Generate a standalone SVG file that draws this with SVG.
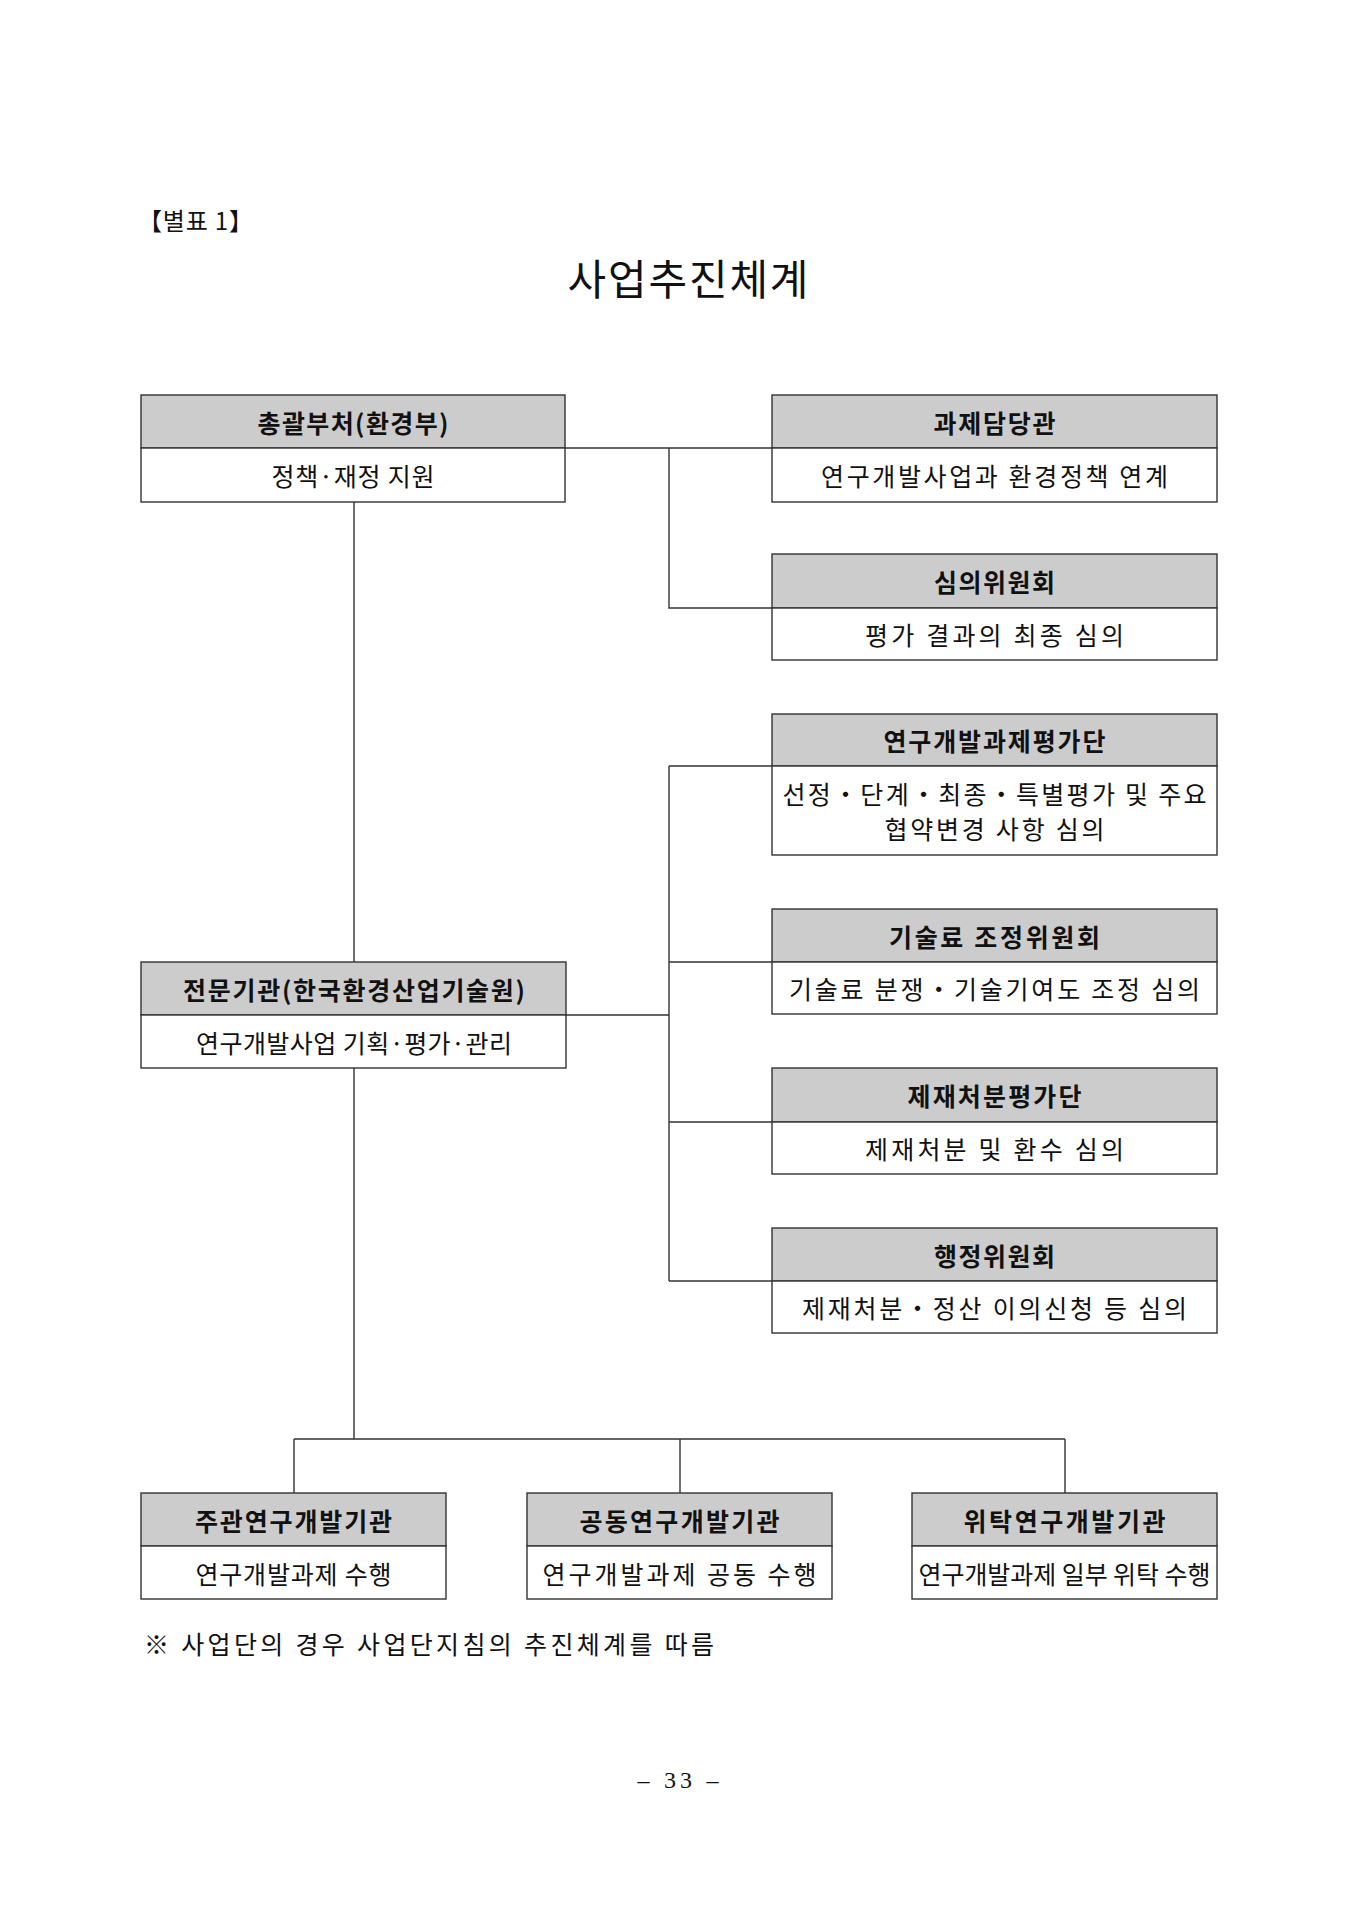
<svg xmlns="http://www.w3.org/2000/svg" width="1358" height="1920" viewBox="0 0 1358 1920">
<style>
.hd{fill:#cccccc;stroke:#333333;stroke-width:1.4}
.bd{fill:#ffffff;stroke:#333333;stroke-width:1.4}
.ln{fill:none;stroke:#333333;stroke-width:1.4}
.ht{font-family:"Noto Sans CJK KR","Noto Sans",sans-serif;font-weight:700;font-size:25px;fill:#111111;text-anchor:middle;dominant-baseline:central}
.bt{font-family:"Noto Sans CJK KR","Noto Sans",sans-serif;font-weight:400;font-size:25px;fill:#111111;text-anchor:middle;dominant-baseline:central}
</style>
<rect width="1358" height="1920" fill="#ffffff"/>
<text x="138" y="219" font-family="Noto Sans CJK KR, sans-serif" font-size="24" fill="#111" dominant-baseline="central" textLength="115" lengthAdjust="spacing">【별표 1】</text>
<text x="688" y="276" font-family="Noto Sans CJK KR, sans-serif" font-size="42" fill="#111" text-anchor="middle" dominant-baseline="central" textLength="241" lengthAdjust="spacing">사업추진체계</text>

<g id="connectors">
<path class="ln" d="M565 448 H772 M669 448 V608 H772"/>
<path class="ln" d="M354 502 V962 M354 1068 V1439"/>
<path class="ln" d="M566 1015 H669 M669 766 V1281 M669 766 H772 M669 962 H772 M669 1122 H772 M669 1281 H772"/>
<path class="ln" d="M294 1439 H1065 M294 1439 V1493 M680 1439 V1493 M1065 1439 V1493"/>
</g>

<g id="n-ministry">
<rect class="hd" x="141" y="395" width="424" height="53"/>
<rect class="bd" x="141" y="448" width="424" height="54"/>
<text class="ht" x="353" y="421.5" textLength="191" lengthAdjust="spacing">총괄부처(환경부)</text>
<text class="bt" x="353" y="475" textLength="163" lengthAdjust="spacing">정책·재정 지원</text>
</g>

<g id="n-officer">
<rect class="hd" x="772" y="395" width="445" height="53"/>
<rect class="bd" x="772" y="448" width="445" height="54"/>
<text class="ht" x="994.5" y="421.5" textLength="122" lengthAdjust="spacing">과제담당관</text>
<text class="bt" x="994.5" y="475" textLength="347" lengthAdjust="spacing">연구개발사업과 환경정책 연계</text>
</g>

<g id="n-review">
<rect class="hd" x="772" y="554" width="445" height="54"/>
<rect class="bd" x="772" y="608" width="445" height="52"/>
<text class="ht" x="994.5" y="581" textLength="121" lengthAdjust="spacing">심의위원회</text>
<text class="bt" x="994.5" y="634" textLength="259" lengthAdjust="spacing">평가 결과의 최종 심의</text>
</g>

<g id="n-eval">
<rect class="hd" x="772" y="714" width="445" height="52"/>
<rect class="bd" x="772" y="766" width="445" height="89"/>
<text class="ht" x="994.5" y="740" textLength="222" lengthAdjust="spacing">연구개발과제평가단</text>
<text class="bt" x="994.5" y="793" font-size="23" textLength="424" lengthAdjust="spacing">선정・단계・최종・특별평가 및 주요</text>
<text class="bt" x="994.5" y="828" font-size="23" textLength="220" lengthAdjust="spacing">협약변경 사항 심의</text>
</g>

<g id="n-fee">
<rect class="hd" x="772" y="909" width="445" height="53"/>
<rect class="bd" x="772" y="962" width="445" height="52"/>
<text class="ht" x="994.5" y="935.5" textLength="211" lengthAdjust="spacing">기술료 조정위원회</text>
<text class="bt" x="994.5" y="988" textLength="411" lengthAdjust="spacing">기술료 분쟁・기술기여도 조정 심의</text>
</g>

<g id="n-agency">
<rect class="hd" x="141" y="962" width="425" height="53"/>
<rect class="bd" x="141" y="1015" width="425" height="53"/>
<text class="ht" x="354" y="988.5" textLength="342" lengthAdjust="spacing">전문기관(한국환경산업기술원)</text>
<text class="bt" x="354" y="1041.5" textLength="316" lengthAdjust="spacing">연구개발사업 기획·평가·관리</text>
</g>

<g id="n-sanction">
<rect class="hd" x="772" y="1068" width="445" height="54"/>
<rect class="bd" x="772" y="1122" width="445" height="52"/>
<text class="ht" x="994.5" y="1095" textLength="174" lengthAdjust="spacing">제재처분평가단</text>
<text class="bt" x="994.5" y="1148" textLength="259" lengthAdjust="spacing">제재처분 및 환수 심의</text>
</g>

<g id="n-admin">
<rect class="hd" x="772" y="1228" width="445" height="53"/>
<rect class="bd" x="772" y="1281" width="445" height="52"/>
<text class="ht" x="994.5" y="1254.5" textLength="121" lengthAdjust="spacing">행정위원회</text>
<text class="bt" x="994.5" y="1307" textLength="385" lengthAdjust="spacing">제재처분・정산 이의신청 등 심의</text>
</g>

<g id="n-lead">
<rect class="hd" x="141" y="1493" width="305" height="53"/>
<rect class="bd" x="141" y="1546" width="305" height="53"/>
<text class="ht" x="293.5" y="1519.5" textLength="197" lengthAdjust="spacing">주관연구개발기관</text>
<text class="bt" x="293.5" y="1572.5" textLength="196" lengthAdjust="spacing">연구개발과제 수행</text>
</g>

<g id="n-joint">
<rect class="hd" x="527" y="1493" width="305" height="53"/>
<rect class="bd" x="527" y="1546" width="305" height="53"/>
<text class="ht" x="679.5" y="1519.5" textLength="200" lengthAdjust="spacing">공동연구개발기관</text>
<text class="bt" x="679.5" y="1572.5" textLength="274" lengthAdjust="spacing">연구개발과제 공동 수행</text>
</g>

<g id="n-consign">
<rect class="hd" x="912" y="1493" width="305" height="53"/>
<rect class="bd" x="912" y="1546" width="305" height="53"/>
<text class="ht" x="1064.5" y="1519.5" textLength="202" lengthAdjust="spacing">위탁연구개발기관</text>
<text class="bt" x="1064.5" y="1572.5" textLength="292" lengthAdjust="spacing">연구개발과제 일부 위탁 수행</text>
</g>

<text x="144" y="1643" font-family="Noto Sans CJK KR, sans-serif" font-size="25" fill="#111" dominant-baseline="central" textLength="570" lengthAdjust="spacing">※ 사업단의 경우 사업단지침의 추진체계를 따름</text>
<text x="678" y="1780" font-family="Liberation Serif, serif" font-size="24" fill="#111" text-anchor="middle" dominant-baseline="central" textLength="81" lengthAdjust="spacing">– 33 –</text>
</svg>
